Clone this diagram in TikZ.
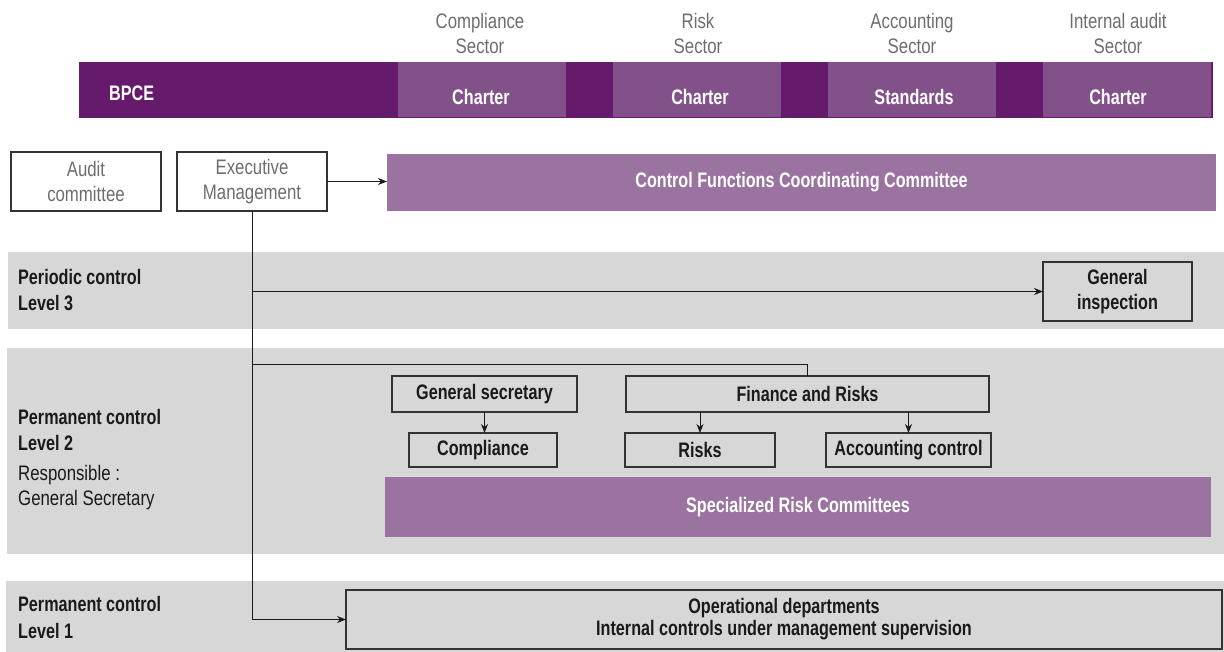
\documentclass[tikz,border=0pt]{standalone}
\usepackage{fontspec}
\setmainfont{Liberation Sans}[FakeStretch=0.8]
\newfontfamily\bdfont{Liberation Sans}[FakeStretch=0.77]
\usetikzlibrary{arrows.meta}
\definecolor{barpurple}{HTML}{661A6B}
\definecolor{blkpurple}{HTML}{825189}
\definecolor{lightpurple}{HTML}{9B73A0}
\definecolor{bandgray}{HTML}{D7D7D7}
\definecolor{txtgray}{HTML}{6E6E6E}
\definecolor{linegray}{HTML}{333333}
\definecolor{ink}{HTML}{1A1A1A}
\tikzset{
  hdr/.style={text=txtgray, font=\fontsize{21}{25}\selectfont, align=center, inner sep=0},
  bartxt/.style={text=white, font=\bdfont\bfseries\fontsize{21}{25}\selectfont, inner sep=0},
  barbox/.style={fill=barpurple, inner sep=0, outer sep=0},
  blk/.style={fill=blkpurple, inner sep=0, outer sep=0},
  wbox/.style={draw=linegray, line width=1.2pt, fill=white, text=txtgray, font=\fontsize{21}{25}\selectfont, align=center, inner sep=0, outer sep=0},
  gbox/.style={draw=linegray, line width=1.1pt, text=ink, font=\bdfont\bfseries\fontsize{21}{25}\selectfont, align=center, inner sep=0, outer sep=0},
  pbox/.style={fill=lightpurple, text=white, font=\bdfont\bfseries\fontsize{21}{25}\selectfont, align=center, inner sep=0, outer sep=0},
  band/.style={fill=bandgray, draw=none},
  lbl/.style={font=\bdfont\bfseries\fontsize{21}{26}\selectfont, text=ink, align=left, anchor=west, inner sep=0},
  rlbl/.style={font=\fontsize{21}{25}\selectfont, text=ink, align=left, anchor=west, inner sep=0},
  conn/.style={draw=ink, line width=1pt},
  arr/.style={conn, -{Stealth[length=9pt,width=7pt]}},
}
\begin{document}
\begin{tikzpicture}[x=1pt,y=-1pt]
\useasboundingbox (0,0) rectangle (1224,652);
\fill[white] (0,0) rectangle (1224,652);

% header labels
\node[hdr] (h1) at (480,33) {Compliance\\Sector};
\node[hdr] (h2) at (698,33) {Risk\\Sector};
\node[hdr] (h3) at (912,33) {Accounting\\Sector};
\node[hdr] (h4) at (1118,33) {Internal audit\\Sector};

% BPCE bar
\node[barbox, minimum width=1134, minimum height=56] (bar) at (646,90) {};
\node[blk, minimum width=168, minimum height=55] (b1) at (482,89.5) {};
\node[blk, minimum width=168, minimum height=55] (b2) at (697,89.5) {};
\node[blk, minimum width=168, minimum height=55] (b3) at (912,89.5) {};
\node[blk, minimum width=168, minimum height=55] (b4) at (1127,89.5) {};
\node[bartxt, anchor=west] (bpce) at (109,93) {BPCE};
\node[bartxt] (t1) at (481,97) {Charter};
\node[bartxt] (t2) at (700,97) {Charter};
\node[bartxt] (t3) at (914,97) {Standards};
\node[bartxt] (t4) at (1118,97) {Charter};

% governance row
\node[wbox, minimum width=150, minimum height=59] (audit) at (86,181.5) {Audit\\committee};
\node[wbox, minimum width=150, minimum height=59] (exec) at (252,181.5) {Executive\\Management};
\node[pbox, minimum width=829, minimum height=57] (cfcc) at (801.5,182.5) {Control Functions Coordinating Committee};

% bands
\fill[band] (8,252) rectangle (1224,329);
\fill[band] (7,348) rectangle (1224,554);
\fill[band] (6,581) rectangle (1224,652);

% level labels
\node[lbl] (l3) at (18,290) {Periodic control\\Level 3};
\node[lbl] (l2) at (18,430) {Permanent control\\Level 2};
\node[rlbl] (resp) at (18,488) {Responsible :\\General Secretary};
\node[lbl, font=\bdfont\bfseries\fontsize{21}{27}\selectfont] (l1) at (18,617) {Permanent control\\Level 1};

% level 3
\node[gbox, minimum width=149, minimum height=59] (gi) at (1117.5,291.5) {General\\inspection};

% level 2
\node[gbox, minimum width=185, minimum height=36] (gs) at (484.5,394) {General secretary};
\node[gbox, minimum width=148, minimum height=34] (comp) at (483,450) {Compliance};
\node[gbox, minimum width=363, minimum height=36] (fr) at (807.5,394) {Finance and Risks};
\node[gbox, minimum width=150, minimum height=34] (risks) at (700,450) {Risks};
\node[gbox, minimum width=165, minimum height=34] (acc) at (908.5,450) {Accounting control};
\node[pbox, minimum width=826, minimum height=60] (spec) at (798,507) {Specialized Risk Committees};

% level 1
\node[gbox, minimum width=876, minimum height=59, font=\bdfont\bfseries\fontsize{21}{22}\selectfont] (ops) at (784,619.5) {Operational departments\\Internal controls under management supervision};

% connectors
\coordinate (jy) at (0,365);
\draw[arr] (exec.east) -- (cfcc.west |- exec.east);
\draw[arr] (exec.south) |- (ops.west);
\draw[arr] (exec.south |- gi.west) -- (gi.west);
\draw[conn] (exec.south |- jy) -| (fr.north);
\draw[arr] (gs.south) -- (gs.south |- comp.north);
\draw[arr] (risks.north |- fr.south) -- (risks.north);
\draw[arr] (acc.north |- fr.south) -- (acc.north);
\end{tikzpicture}
\end{document}
